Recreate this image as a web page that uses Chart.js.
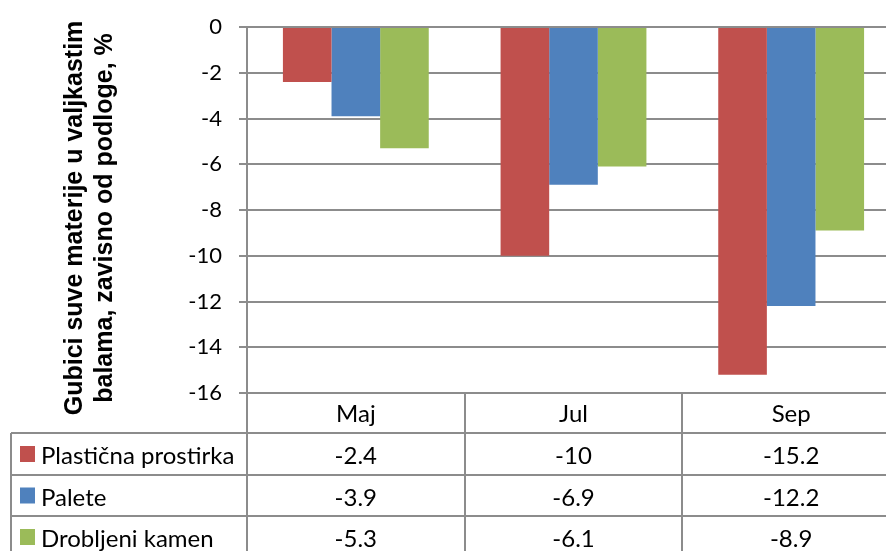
<!DOCTYPE html>
<html>
<head>
<meta charset="utf-8">
<script src="https://cdn.jsdelivr.net/npm/chart.js@4.4.1/dist/chart.umd.min.js"></script>
<style>
html,body{margin:0;padding:0;overflow:hidden;background:#ffffff;}
#wrap{width:900px;height:551px;position:relative;}
</style>
</head>
<body>
<div id="wrap"><canvas id="c" width="900" height="551"></canvas></div>
<script>
// ---- data ----
const categories = ['Maj', 'Jul', 'Sep'];
const seriesNames = ['Plastična prostirka', 'Palete', 'Drobljeni kamen'];
const plasticnaProstirka = [-2.4, -10, -15.2];
const palete = [-3.9, -6.9, -12.2];
const drobljeniKamen = [-5.3, -6.1, -8.9];
const yTicks = [0, -2, -4, -6, -8, -10, -12, -14, -16];
const yTitleLines = ['Gubici suve materije u valjkastim', 'balama, zavisno od podloge, %'];

// ---- styles ----
const seriesColors = ['#C0504D', '#4F81BD', '#9BBB59'];
const GRID = '#8c8c8c';
const TXT_FONT = '24px Lato, "Open Sans", sans-serif';

const seriesValues = [plasticnaProstirka, palete, drobljeniKamen];

const yTitlePlugin = {
  id: 'yTitle',
  afterDraw(chart) {
    const ctx = chart.ctx;
    ctx.save();
    ctx.fillStyle = '#000';
    ctx.font = 'bold 25px "Liberation Sans", Arial, sans-serif';
    ctx.textAlign = 'center';
    ctx.textBaseline = 'middle';
    const cy = 218;
    const xs = [75, 105];
    yTitleLines.forEach((t, i) => {
      ctx.save();
      ctx.translate(xs[i], cy);
      ctx.rotate(-Math.PI / 2);
      ctx.fillText(t, 0, 0);
      ctx.restore();
    });
    ctx.restore();
  }
};

const tablePlugin = {
  id: 'dataTable',
  afterDraw(chart) {
    const ctx = chart.ctx;
    const a = chart.chartArea;
    const xs = chart.scales.x;
    const n = categories.length;
    const catW = (a.right - a.left) / n;
    const headerBottom = a.bottom + 40;
    const rowH = 41.5;
    const tableLeft = 11;
    const bottom = chart.height + 10;
    ctx.save();
    ctx.strokeStyle = GRID;
    ctx.lineWidth = 2;
    ctx.beginPath();
    for (let r = 0; r < seriesNames.length; r++) {
      const y = Math.round(headerBottom + r * rowH);
      ctx.moveTo(tableLeft, y);
      ctx.lineTo(a.right, y);
    }
    ctx.moveTo(tableLeft, headerBottom);
    ctx.lineTo(tableLeft, bottom);
    for (let i = 0; i <= n; i++) {
      const x = Math.round(a.left + i * catW);
      ctx.moveTo(x, a.bottom);
      ctx.lineTo(x, bottom);
    }
    ctx.stroke();

    ctx.fillStyle = '#000';
    ctx.font = TXT_FONT;
    ctx.textBaseline = 'alphabetic';
    ctx.textAlign = 'center';
    categories.forEach((c, i) => {
      ctx.fillText(c, xs.getPixelForValue(i), a.bottom + 29);
    });
    seriesNames.forEach((name, r) => {
      const base = headerBottom + r * rowH + 31;
      ctx.textAlign = 'center';
      seriesValues[r].forEach((v, i) => {
        ctx.fillText(String(v), xs.getPixelForValue(i), base);
      });
      ctx.fillStyle = seriesColors[r];
      ctx.fillRect(20, base - 18, 15, 16);
      ctx.fillStyle = '#000';
      ctx.textAlign = 'left';
      ctx.fillText(name, 41, base);
    });
    ctx.restore();
  }
};

new Chart(document.getElementById('c'), {
  type: 'bar',
  data: {
    labels: categories,
    datasets: seriesNames.map((name, i) => ({
      label: name,
      data: seriesValues[i],
      backgroundColor: seriesColors[i],
      borderWidth: 0,
      categoryPercentage: 0.67,
      barPercentage: 1.0
    }))
  },
  options: {
    responsive: false,
    animation: false,
    layout: { padding: { top: 27, bottom: 158, left: 0, right: 0 } },
    plugins: { legend: { display: false }, tooltip: { enabled: false }, title: { display: false } },
    scales: {
      x: { display: false },
      y: {
        min: -16, max: 0,
        afterFit(scale) { scale.width = 247; scale.paddingTop = 0; scale.paddingBottom = 0; },
        afterBuildTicks(scale) { scale.ticks = yTicks.map(v => ({ value: v })); },
        ticks: { color: '#000', font: { family: 'Lato, "Open Sans", sans-serif', size: 22 }, padding: 17 },
        grid: { color: GRID, lineWidth: 2, tickLength: 8, drawTicks: true },
        border: { color: GRID, width: 2 }
      }
    }
  },
  plugins: [yTitlePlugin, tablePlugin]
});
</script>
</body>
</html>
